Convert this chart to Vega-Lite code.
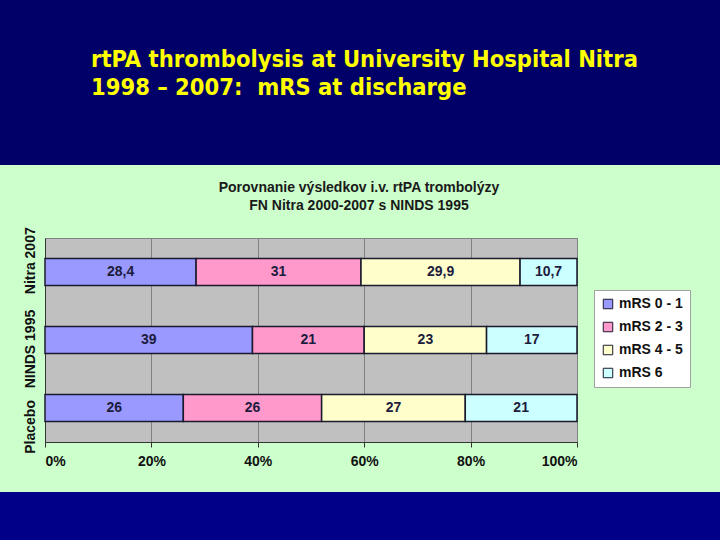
{
  "$schema": "https://vega.github.io/schema/vega-lite/v6.json",
  "background": "#ccffcc",
  "padding": 0,
  "config": {
    "locale": {"number": {"decimal": ",", "thousands": " ", "grouping": [3], "currency": ["", ""]}},
    "font": "Liberation Sans"
  },
  "align": "none",
  "spacing": 15,
  "vconcat": [
    {
      "width": 720,
      "height": 165,
      "view": {"fill": "#000068", "stroke": null},
      "data": {"values": []},
      "mark": "point",
      "title": {
        "text": ["rtPA thrombolysis at University Hospital Nitra", "1998 – 2007:\u00a0\u00a0mRS at discharge"],
        "anchor": "start",
        "frame": "group",
        "dx": 91,
        "offset": -99,
        "color": "#ffff00",
        "font": "DejaVu Sans Condensed",
        "fontWeight": "bold",
        "fontSize": 23.5,
        "lineHeight": 28
      }
    },
    {
      "align": "none",
      "spacing": 23,
      "vconcat": [
        {
          "spacing": 21,
          "hconcat": [
            {"width": 1, "height": 1, "view": {"stroke": null}, "data": {"values": []}, "mark": "point"},
            {
              "width": 532,
              "height": 204,
              "view": {"fill": "#c0c0c0", "stroke": "#808080"},
              "title": {
                "text": ["Porovnanie výsledkov i.v. rtPA trombolýzy", "FN Nitra 2000-2007 s NINDS 1995"],
                "anchor": "middle",
                "frame": "group",
                "dx": 48,
                "fontSize": 14,
                "fontWeight": "bold",
                "color": "#1a1a1a",
                "lineHeight": 18,
                "offset": 14,
                "font": "Liberation Sans"
              },
              "data": {
                "values": [
                  {"group": "Nitra 2007", "mRS": "mRS 0 - 1", "value": 28.4},
                  {"group": "Nitra 2007", "mRS": "mRS 2 - 3", "value": 31},
                  {"group": "Nitra 2007", "mRS": "mRS 4 - 5", "value": 29.9},
                  {"group": "Nitra 2007", "mRS": "mRS 6", "value": 10.7},
                  {"group": "NINDS 1995", "mRS": "mRS 0 - 1", "value": 39},
                  {"group": "NINDS 1995", "mRS": "mRS 2 - 3", "value": 21},
                  {"group": "NINDS 1995", "mRS": "mRS 4 - 5", "value": 23},
                  {"group": "NINDS 1995", "mRS": "mRS 6", "value": 17},
                  {"group": "Placebo", "mRS": "mRS 0 - 1", "value": 26},
                  {"group": "Placebo", "mRS": "mRS 2 - 3", "value": 26},
                  {"group": "Placebo", "mRS": "mRS 4 - 5", "value": 27},
                  {"group": "Placebo", "mRS": "mRS 6", "value": 21}
                ]
              },
              "encoding": {
                "y": {
                  "field": "group",
                  "type": "nominal",
                  "sort": null,
                  "scale": {"paddingInner": 0.6, "paddingOuter": 0.3},
                  "axis": {
                    "labels": false,
                    "ticks": false,
                    "grid": false,
                    "domainColor": "#333333",
                    "title": "Placebo\u00a0\u00a0\u00a0NINDS 1995\u00a0\u00a0\u00a0\u00a0Nitra 2007",
                    "titleFontSize": 14,
                    "titleFontWeight": "bold",
                    "titleColor": "#111111",
                    "titlePadding": 8
                  }
                }
              },
              "layer": [
                {
                  "mark": {"type": "bar", "stroke": "#1a1a2e", "strokeWidth": 1.5},
                  "encoding": {
                    "x": {
                      "field": "value",
                      "type": "quantitative",
                      "stack": "normalize",
                      "axis": {
                        "title": null,
                        "values": [0, 0.2, 0.4, 0.6, 0.8, 1],
                        "format": ".0%",
                        "grid": true,
                        "gridColor": "#808080",
                        "gridOpacity": 1,
                        "domainColor": "#333333",
                        "tickColor": "#333333",
                        "tickSize": 5,
                        "labelFontSize": 14,
                        "labelFontWeight": "bold",
                        "labelColor": "#111111",
                        "labelPadding": 7
                      }
                    },
                    "order": {"field": "mRS", "type": "nominal", "sort": "ascending"},
                    "color": {
                      "field": "mRS",
                      "type": "nominal",
                      "scale": {
                        "domain": ["mRS 0 - 1", "mRS 2 - 3", "mRS 4 - 5", "mRS 6"],
                        "range": ["#9999ff", "#ff99cc", "#ffffcc", "#ccffff"]
                      },
                      "legend": {
                        "orient": "none",
                        "legendX": 594,
                        "legendY": 290,
                        "title": null,
                        "fillColor": "#ffffff",
                        "strokeColor": "#a0a0a0",
                        "padding": 7,
                        "labelFontSize": 14,
                        "labelFontWeight": "bold",
                        "labelColor": "#111111",
                        "labelOffset": 4,
                        "symbolType": "square",
                        "symbolSize": 90,
                        "symbolStrokeColor": "#1a1a2e",
                        "symbolStrokeWidth": 1,
                        "rowPadding": 9
                      }
                    }
                  }
                },
                {
                  "mark": {"type": "text", "fontSize": 14, "fontWeight": "bold", "color": "#1c1c3c"},
                  "encoding": {
                    "x": {"field": "value", "type": "quantitative", "stack": "normalize", "bandPosition": 0.5, "title": null},
                    "order": {"field": "mRS", "type": "nominal", "sort": "ascending"},
                    "detail": {"field": "mRS", "type": "nominal"},
                    "text": {"field": "value", "type": "quantitative", "format": "~g"}
                  }
                }
              ]
            }
          ]
        },
        {
          "width": 720,
          "height": 50,
          "view": {"fill": "#000088", "stroke": null},
          "data": {"values": []},
          "mark": "point"
        }
      ]
    }
  ]
}
